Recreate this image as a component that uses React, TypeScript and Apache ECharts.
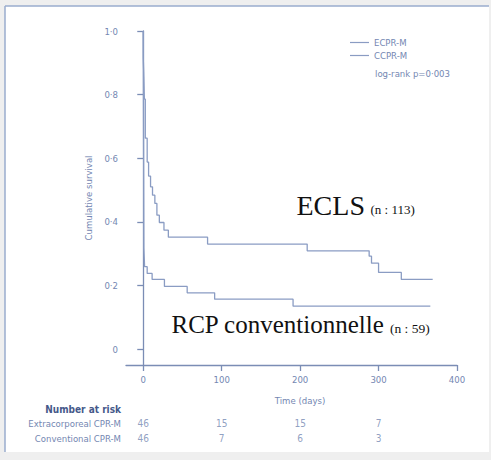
import React, { useEffect, useRef } from "react";
import * as echarts from "echarts";

// Kaplan-Meier steps (time in days, cumulative survival after the drop)
const ecprTimes = [0, 0, 0.6, 1.4, 2.6, 5, 6.8, 9.3, 11.8, 14.8, 17.4, 20.5, 26.4, 32, 82, 209, 288, 291, 300, 329, 369];
const ecprSurv = [1.0, 0.915, 0.87, 0.786, 0.663, 0.588, 0.544, 0.51, 0.484, 0.458, 0.421, 0.398, 0.374, 0.352, 0.33, 0.309, 0.292, 0.27, 0.241, 0.219, 0.219];
const ccprTimes = [0, 0.8, 1.7, 5, 11.3, 27, 56, 91, 191, 366];
const ccprSurv = [1.0, 0.318, 0.259, 0.238, 0.219, 0.197, 0.177, 0.157, 0.135, 0.135];

const xTicks = [0, 100, 200, 300, 400];
const yTicks = [0, 0.2, 0.4, 0.6, 0.8, 1.0];

const riskTimes = [0, 100, 200, 300];
const riskRows = ["Extracorporeal CPR-M", "Conventional CPR-M"];
const riskECPR = [46, 15, 15, 7];
const riskCCPR = [46, 7, 6, 3];

const seriesNames = ["ECPR-M", "CCPR-M"];

const LINE = "#8a9cc3";
const AXIS = "#7b8db5";
const TXT = "#7487b2";
const NARROW = '"DejaVu Sans Condensed", "Liberation Sans Narrow", sans-serif';
const FS = 9.5;
const SERIF = '"Liberation Serif", "Times New Roman", serif';

export default function App() {
  const ref = useRef<HTMLDivElement>(null);
  useEffect(() => {
    if (!ref.current) return;
    const chart = echarts.init(ref.current, undefined, { renderer: "svg" });
    const ecpr = ecprTimes.map((t, i) => [t, ecprSurv[i]]);
    const ccpr = ccprTimes.map((t, i) => [t, ccprSurv[i]]);
    const riskData: any[] = [];
    riskTimes.forEach((t, i) => {
      riskData.push([t, riskRows[0], riskECPR[i]]);
      riskData.push([t, riskRows[1], riskCCPR[i]]);
    });
    chart.setOption({
      animation: false,
      backgroundColor: "#efefef",
      grid: [
        { left: 126, right: 34, top: 31, bottom: 95, outerBoundsMode: "none" },
        { left: 126, right: 34, top: 415.5, height: 30, outerBoundsMode: "none" },
      ],
      legend: {
        data: seriesNames,
        orient: "vertical",
        left: 350,
        top: 37.5,
        padding: 0,
        icon: "rect",
        itemWidth: 19,
        itemHeight: 1.2,
        itemGap: 3,
        textStyle: { fontSize: FS, color: TXT, fontFamily: NARROW },
      },
      xAxis: [
        {
          gridIndex: 0,
          type: "value",
          min: -22,
          max: 400,
          splitLine: { show: false },
          axisLine: { show: true, onZero: false, lineStyle: { color: AXIS, width: 1.3 } },
          axisTick: { show: true, customValues: xTicks, length: 6, lineStyle: { color: AXIS, width: 1.3 } },
          axisLabel: { customValues: xTicks, margin: 9, fontSize: FS, color: TXT, fontFamily: NARROW },
          name: "Time (days)",
          nameLocation: "middle",
          nameGap: 30,
          nameTextStyle: { fontSize: FS, color: TXT, fontFamily: NARROW, padding: [0, 0, 0, 17] },
        },
        {
          gridIndex: 1,
          type: "value",
          min: -22,
          max: 400,
          show: false,
        },
      ],
      yAxis: [
        {
          gridIndex: 0,
          type: "value",
          min: -0.05,
          max: 1,
          splitLine: { show: false },
          axisLine: { show: true, lineStyle: { color: AXIS, width: 1.3 } },
          axisTick: { show: true, customValues: yTicks, length: 6, lineStyle: { color: AXIS, width: 1.3 } },
          axisLabel: {
            customValues: yTicks,
            margin: 8,
            fontSize: FS,
            color: TXT,
            fontFamily: NARROW,
            formatter: (v: number) => (v === 0 ? "0" : v.toFixed(1).replace(".", "·")),
          },
          name: "Cumulative survival",
          nameLocation: "middle",
          nameGap: 31,
          nameTextStyle: { fontSize: FS, color: TXT, fontFamily: NARROW },
        },
        {
          gridIndex: 1,
          type: "category",
          inverse: true,
          data: riskRows,
          axisLine: { show: false },
          axisTick: { show: false },
          splitLine: { show: false },
          axisLabel: { margin: 5, fontSize: FS, color: TXT, fontFamily: NARROW },
        },
      ],
      series: [
        {
          name: seriesNames[0],
          type: "line",
          step: "end",
          data: ecpr,
          showSymbol: false,
          symbol: "none",
          lineStyle: { color: LINE, width: 1.3 },
          itemStyle: { color: LINE },
          xAxisIndex: 0,
          yAxisIndex: 0,
        },
        {
          name: seriesNames[1],
          type: "line",
          step: "end",
          data: ccpr,
          showSymbol: false,
          symbol: "none",
          lineStyle: { color: LINE, width: 1.3 },
          itemStyle: { color: LINE },
          xAxisIndex: 0,
          yAxisIndex: 0,
        },
        {
          type: "scatter",
          xAxisIndex: 1,
          yAxisIndex: 1,
          symbolSize: 0,
          silent: true,
          emphasis: { disabled: true },
          itemStyle: { color: TXT },
          data: riskData,
          label: {
            show: true,
            position: "inside",
            formatter: (p: any) => String(p.value[2]),
            fontSize: FS + 0.5,
            color: TXT,
            fontFamily: NARROW,
          },
        },
      ],
      graphic: [
        { type: "rect", z: -10, shape: { x: 5, y: 6, width: 484, height: 446 }, style: { fill: "#ffffff" } },
        { type: "line", z: -9, shape: { x1: 5, y1: 6, x2: 489, y2: 6 }, style: { stroke: "#9aacce", lineWidth: 1.5 } },
        { type: "line", z: -9, shape: { x1: 5, y1: 6, x2: 5, y2: 452 }, style: { stroke: "#9aacce", lineWidth: 1.5 } },
        {
          type: "text",
          x: 375,
          y: 73,
          style: { text: "log-rank p=0·003", fontSize: FS, fill: TXT, fontFamily: NARROW, verticalAlign: "middle" },
        },
        {
          type: "text",
          x: 121,
          y: 409,
          style: { text: "Number at risk", fontSize: FS + 0.5, fontWeight: "bold", fill: "#45598a", fontFamily: NARROW, align: "right", verticalAlign: "middle" },
        },
        {
          type: "text",
          x: 296.5,
          y: 205,
          style: { text: "ECLS", fontSize: 28, fill: "#111111", fontFamily: SERIF, verticalAlign: "middle" },
        },
        {
          type: "text",
          x: 370.5,
          y: 209.5,
          style: { text: "(n : 113)", fontSize: 13, fill: "#111111", fontFamily: SERIF, verticalAlign: "middle" },
        },
        {
          type: "text",
          x: 171.5,
          y: 324.5,
          style: { text: "RCP conventionnelle", fontSize: 25, fill: "#111111", fontFamily: SERIF, verticalAlign: "middle" },
        },
        {
          type: "text",
          x: 390,
          y: 328.5,
          style: { text: "(n : 59)", fontSize: 13.5, fill: "#111111", fontFamily: SERIF, verticalAlign: "middle" },
        },
      ],
    });
    return () => chart.dispose();
  }, []);
  return <div ref={ref} style={{ position: "fixed", left: 0, top: 0, width: 491, height: 460 }} />;
}
